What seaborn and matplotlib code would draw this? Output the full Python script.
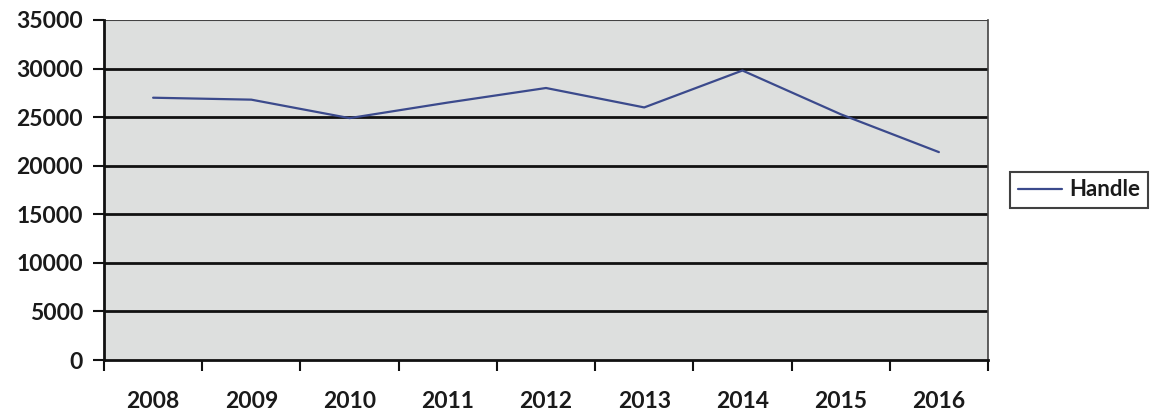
import matplotlib
matplotlib.use("Agg")
import matplotlib.pyplot as plt
import seaborn as sns
import pandas as pd
import numpy as np

years = ["2008", "2009", "2010", "2011", "2012", "2013", "2014", "2015", "2016"]
handle = [27000, 26800, 24900, 26500, 28000, 26000, 29800, 25300, 21400]
yticks = [0, 5000, 10000, 15000, 20000, 25000, 30000, 35000]
series_name = "Handle"

sns.set_theme(style="white")
plt.rcParams['font.family'] = ['Lato', 'DejaVu Sans']

df = pd.DataFrame({"year": years, "value": handle, "series": series_name})

fig = plt.figure(figsize=(11.66, 4.19), dpi=100)
ax = fig.add_axes([104/1166, 1-360/419, (988-104)/1166, (360-20)/419])
ax.set_facecolor("#dddfde")

for v in yticks[1:-1]:
    ax.axhline(v, color="#111111", lw=2.0, zorder=1)
ax.axhline(yticks[-1], color="#444444", lw=1.5, zorder=1)

sns.lineplot(data=df, x="year", y="value", hue="series", palette=["#3b4a8c"],
             lw=1.6, ax=ax, zorder=3, legend=True)

ax.set_xlim(-0.5, len(years) - 0.5)
ax.set_ylim(0, 35000)
ax.set_yticks(yticks)
ax.set_yticklabels([str(t) for t in yticks], fontsize=16.5, fontweight="bold", color="#1a1a1a")
ax.set_xticks(range(len(years)))
ax.set_xticklabels(years, fontsize=16.5, fontweight="bold", color="#1a1a1a")
ax.set_xticks(np.arange(-0.5, len(years)), minor=True)
ax.tick_params(axis="x", which="major", length=0, pad=22)
ax.tick_params(axis="x", which="minor", length=8, width=1.5, color="#111111", direction="out", bottom=True)
ax.tick_params(axis="y", which="major", length=8, width=1.5, color="#111111", direction="out", left=True, pad=7)
ax.set_xlabel("")
ax.set_ylabel("")

for s in ["left", "bottom"]:
    ax.spines[s].set_color("#111111")
    ax.spines[s].set_linewidth(2.0)
ax.spines["right"].set_color("#444444")
ax.spines["right"].set_linewidth(1.2)
ax.spines["top"].set_visible(False)

leg = ax.legend(loc="center left", bbox_to_anchor=(1.025, 0.5), frameon=True,
                fancybox=False, edgecolor="#111111", fontsize=16,
                handlelength=2.0, borderpad=0.35, handletextpad=0.3,
                borderaxespad=0)
leg.get_frame().set_linewidth(1.5)
for t in leg.get_texts():
    t.set_fontweight("bold")
    t.set_color("#1a1a1a")

fig.savefig("out.png", dpi=100, facecolor="white")
